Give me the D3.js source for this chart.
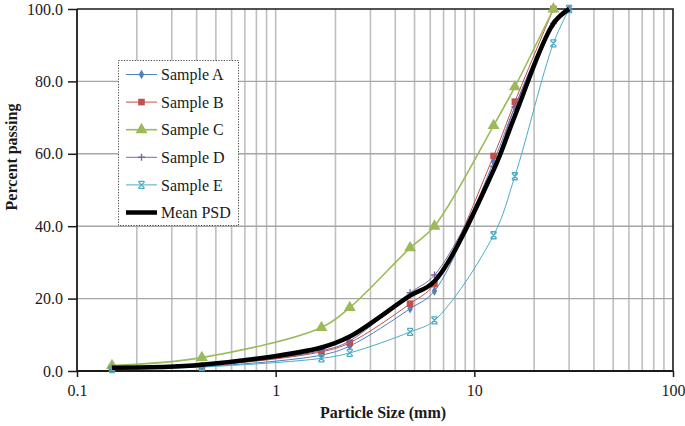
<!DOCTYPE html>
<html><head><meta charset="utf-8">
<script src="https://cdn.jsdelivr.net/npm/d3@7/dist/d3.min.js"></script>
<style>
html,body{margin:0;padding:0;background:#fff;}
svg{display:block;}
svg text{font-family:"Liberation Serif","Times New Roman",serif;}
</style></head>
<body>
<svg id="chart" width="685" height="426"></svg>
<script>
// ---- data ----
const sizesFull = [0.15, 0.425, 1.7, 2.36, 4.75, 6.3, 12.5, 16, 25, 30];
const sizesTo25 = [0.15, 0.425, 1.7, 2.36, 4.75, 6.3, 12.5, 16, 25];
const sampleA = [0.7, 1.2, 4.4, 6.9, 17.2, 22.1, 57.8, 73.0, 96.0, 100];
const sampleB = [0.9, 1.4, 5.3, 7.8, 18.6, 24.0, 59.4, 74.4, 100];
const sampleC = [1.5, 3.7, 12.0, 17.5, 34.0, 40.0, 67.8, 78.5, 100];
const sampleD = [0.9, 1.5, 5.6, 8.3, 21.6, 26.5, 56.5, 73.0, 96.0, 100];
const sampleE = [0.5, 1.1, 3.5, 5.0, 10.8, 14.0, 37.5, 53.8, 90.5, 100];
const meanPSD = [0.9, 1.7, 6.5, 9.5, 20.8, 24.8, 55.5, 70.5, 96.0, 100];
const xTickLabels = [0.1, 1, 10, 100];
const yTickLabels = [0, 20, 40, 60, 80, 100];
const seriesNames = ["Sample A", "Sample B", "Sample C", "Sample D", "Sample E", "Mean PSD"];

// ---- styles ----
const FONT = "'Liberation Serif','Times New Roman',serif";
const series = [
  {name: seriesNames[0], xs: sizesFull, ys: sampleA, color: "#4F81BD", w: 1, marker: "diamond"},
  {name: seriesNames[1], xs: sizesTo25, ys: sampleB, color: "#C0504D", w: 1, marker: "square"},
  {name: seriesNames[2], xs: sizesTo25, ys: sampleC, color: "#9BBB59", w: 1.6, marker: "triangle"},
  {name: seriesNames[3], xs: sizesFull, ys: sampleD, color: "#8064A2", w: 1, marker: "plus"},
  {name: seriesNames[4], xs: sizesFull, ys: sampleE, color: "#4BACC6", w: 1, marker: "star"},
  {name: seriesNames[5], xs: sizesFull, ys: meanPSD, color: "#000000", w: 4.5, marker: null}
];

const L = 77, R = 673, T = 9, B = 371;
const svg = d3.select("#chart");
const x = d3.scaleLog().domain([0.1, 100]).range([L, R]);
const y = d3.scaleLinear().domain([0, 100]).range([B, T]);

// gridlines
const grid = svg.append("g");
grid.selectAll("line.v").data(x.ticks().filter(d => d > 0.1 && d < 100)).enter()
  .append("line").attr("x1", d => x(d)).attr("x2", d => x(d)).attr("y1", T).attr("y2", B)
  .attr("stroke", "#bfbfbf").attr("stroke-width", 1.6);
grid.selectAll("line.h").data(yTickLabels.filter(d => d > 0 && d < 100)).enter()
  .append("line").attr("x1", L).attr("x2", R).attr("y1", d => y(d)).attr("y2", d => y(d))
  .attr("stroke", "#a6a6a6").attr("stroke-width", 1.4);

// border top/right
svg.append("path").attr("d", `M${L},${T}H${R}V${B}`).attr("fill", "none")
  .attr("stroke", "#1a1a1a").attr("stroke-width", 1.6);

// axes
const xAxis = d3.axisBottom(x).tickValues(xTickLabels).tickFormat(d => String(d)).tickSize(6).tickPadding(8);
const gx = svg.append("g").attr("transform", `translate(0,${B})`).call(xAxis);
const yAxis = d3.axisLeft(y).tickValues(yTickLabels).tickFormat(d3.format(".1f")).tickSize(9).tickPadding(5);
const gy = svg.append("g").attr("transform", `translate(${L},0)`).call(yAxis);
[gx, gy].forEach(g => {
  g.attr("font-family", FONT);
  g.select(".domain").attr("stroke", "#1a1a1a").attr("stroke-width", 1.8);
  g.selectAll(".tick line").attr("stroke", "#1a1a1a").attr("stroke-width", 1.5);
  g.selectAll("text").attr("font-family", FONT).attr("font-size", 16).attr("fill", "#1a1a1a");
});
gx.select(".domain").attr("d", `M${L},0H${R}`);
gy.select(".domain").attr("d", `M0,${B}V${T}`);

// axis titles
svg.append("text").attr("x", 383).attr("y", 418).attr("text-anchor", "middle").attr("font-family", FONT)
  .attr("font-weight", "bold").attr("font-size", 16).attr("fill", "#1a1a1a").text("Particle Size (mm)");
svg.append("text").attr("transform", "translate(17,157) rotate(-90)").attr("text-anchor", "middle").attr("font-family", FONT)
  .attr("font-weight", "bold").attr("font-size", 16).attr("fill", "#1a1a1a").text("Percent passing");

// markers
function drawMarker(g, type, color, cx, cy) {
  if (type === "diamond") {
    g.append("path").attr("d", d3.symbol(d3.symbolDiamond, 26)()).attr("transform", `translate(${cx},${cy})`).attr("fill", color);
  } else if (type === "square") {
    g.append("path").attr("d", d3.symbol(d3.symbolSquare, 44)()).attr("transform", `translate(${cx},${cy})`).attr("fill", color);
  } else if (type === "triangle") {
    g.append("path").attr("d", d3.symbol(d3.symbolTriangle, 62)()).attr("transform", `translate(${cx},${cy})`).attr("fill", color);
  } else if (type === "plus") {
    g.append("path").attr("d", "M-3.5,0H3.5M0,-3.5V3.5").attr("transform", `translate(${cx},${cy})`)
      .attr("stroke", color).attr("stroke-width", 1.4).attr("fill", "none");
  } else if (type === "star") {
    g.append("path").attr("d", "M-3,-3L3,3M-3,3L3,-3M-3,-3.5H3M-3,3.5H3").attr("transform", `translate(${cx},${cy})`)
      .attr("stroke", color).attr("stroke-width", 1.3).attr("fill", "none");
  }
}

// lines
const lineGen = d3.line().x(d => x(d[0])).y(d => y(d[1])).curve(d3.curveCatmullRom.alpha(0.5));
const plot = svg.append("g");
series.forEach(s => {
  const pts = s.xs.map((v, i) => [v, s.ys[i]]);
  const g = plot.append("g");
  g.append("path").attr("d", lineGen(pts)).attr("fill", "none").attr("stroke", s.color)
    .attr("stroke-width", s.w).attr("stroke-linejoin", "round");
  if (s.marker) pts.forEach(p => drawMarker(g, s.marker, s.color, x(p[0]), y(p[1])));
});

// legend
const lg = svg.append("g");
lg.append("rect").attr("x", 118.5).attr("y", 60.5).attr("width", 120).attr("height", 165)
  .attr("fill", "#fff").attr("stroke", "#444").attr("stroke-width", 1).attr("stroke-dasharray", "1.2,1.5");
series.forEach((s, i) => {
  const cy = 74.5 + i * 27.6;
  lg.append("line").attr("x1", 126).attr("x2", 157).attr("y1", cy).attr("y2", cy)
    .attr("stroke", s.color).attr("stroke-width", s.w);
  if (s.marker) drawMarker(lg, s.marker, s.color, 141.5, cy);
  lg.append("text").attr("x", 161).attr("y", cy).attr("dy", "0.35em").attr("font-size", 16).attr("font-family", FONT)
    .attr("fill", "#1a1a1a").text(s.name);
});
</script>
</body></html>
